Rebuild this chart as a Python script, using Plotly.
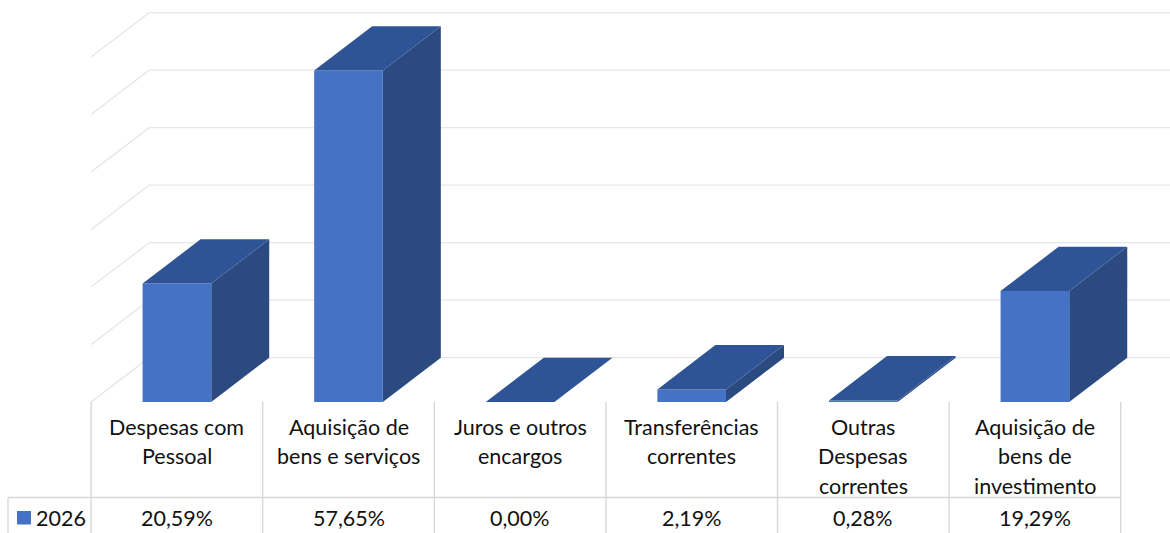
import plotly.graph_objects as go

# ---------------- data ----------------
categories = [
    "Despesas com<br>Pessoal",
    "Aquisição de<br>bens e serviços",
    "Juros e outros<br>encargos",
    "Transferências<br>correntes",
    "Outras<br>Despesas<br>correntes",
    "Aquisição de<br>bens de<br>investimento",
]
series_name = "2026"
values = [20.59, 57.65, 0.00, 2.19, 0.28, 19.29]
grid_ticks = [0, 10, 20, 30, 40, 50, 60]

# ---------------- layout / style constants ----------------
W, H = 1170, 533
X0_PX, X_STEP_PX = 176.9, 171.6      # pixel of category 0 centre, pixels per category
Y0_PX, Y_UNIT_PX = 402.0, 5.75       # pixel of value 0 (front), pixels per percent
BAR_W = 0.4
DX = 58.0 / X_STEP_PX                # depth offset (x, in category units)
DY = 44.3 / Y_UNIT_PX                # depth offset (y, in percent units)

FRONT = "#4472C4"
SIDE = "#2B4A80"
TOP = "#2F5496"
GRID = "#E6E6E6"
TABLE = "#D6D6D6"
FONT = "Lato"
FS = 21.5
TXT = "#111111"

xr = [-X0_PX / X_STEP_PX, (W - X0_PX) / X_STEP_PX]
yr = [(Y0_PX - H) / Y_UNIT_PX, Y0_PX / Y_UNIT_PX]


def ux(px):
    return (px - X0_PX) / X_STEP_PX


def vy(px):
    return (Y0_PX - px) / Y_UNIT_PX


fig = go.Figure()

# ---- walls gridlines ----
gx, gy = [], []
left = -0.5
for t in grid_ticks:
    gx += [left, left + DX, None]
    gy += [t, t + DY, None]
    gx += [left + DX, xr[1] + 1, None]
    gy += [t + DY, t + DY, None]
fig.add_trace(go.Scatter(x=gx, y=gy, mode="lines", line=dict(color=GRID, width=1.3),
                         hoverinfo="skip", showlegend=False))

# ---- 3D bars ----
for i, v in enumerate(values):
    x0, x1 = i - BAR_W / 2, i + BAR_W / 2
    fig.add_trace(go.Scatter(
        x=[x1, x1 + DX, x1 + DX, x1, x1], y=[0, DY, v + DY, v, 0],
        fill="toself", fillcolor=SIDE, mode="lines", line=dict(width=0, color=SIDE),
        hoverinfo="skip", showlegend=False))
    fig.add_trace(go.Scatter(
        x=[x0, x1, x1, x0, x0], y=[0, 0, v, v, 0],
        fill="toself", fillcolor=FRONT, mode="lines", line=dict(width=0, color=FRONT),
        hoverinfo="skip", showlegend=False, name=series_name))
    fig.add_trace(go.Scatter(
        x=[x0, x1, x1 + DX, x0 + DX, x0], y=[v, v, v + DY, v + DY, v],
        fill="toself", fillcolor=TOP, mode="lines", line=dict(width=0, color=TOP),
        hoverinfo="skip", showlegend=False))

# ---- data table ----
shapes = []
n = len(categories)
for k in range(n + 1):
    xb = k - 0.5
    shapes.append(dict(type="line", xref="x", yref="y", x0=xb, x1=xb,
                       y0=vy(402), y1=vy(H + 2), line=dict(color=TABLE, width=1.3)))
shapes.append(dict(type="line", xref="x", yref="y", x0=ux(8), x1=n - 0.5,
                   y0=vy(497.5), y1=vy(497.5), line=dict(color=TABLE, width=1.3)))
shapes.append(dict(type="line", xref="x", yref="y", x0=ux(8), x1=ux(8),
                   y0=vy(497.5), y1=vy(H + 2), line=dict(color=TABLE, width=1.3)))
shapes.append(dict(type="rect", xref="x", yref="y", x0=ux(17), x1=ux(31),
                   y0=vy(524.5), y1=vy(511), fillcolor=FRONT, line=dict(width=0)))

annotations = []
for i, lab in enumerate(categories):
    for j, line in enumerate(lab.split("<br>")):
        annotations.append(dict(x=i, y=vy(426.5 + 29.7 * j), xref="x", yref="y",
                                text=line, showarrow=False, xanchor="center",
                                yanchor="middle", font=dict(family=FONT, size=FS, color=TXT)))
for i, v in enumerate(values):
    annotations.append(dict(x=i, y=vy(518), xref="x", yref="y",
                            text=f"{v:.2f}".replace(".", ",") + "%", showarrow=False,
                            xanchor="center", yanchor="middle",
                            font=dict(family=FONT, size=FS, color=TXT)))
annotations.append(dict(x=ux(34), y=vy(518), xref="x", yref="y", text=series_name,
                        showarrow=False, xanchor="left", yanchor="middle",
                        font=dict(family=FONT, size=FS, color=TXT)))

fig.update_layout(
    width=W, height=H, autosize=False,
    margin=dict(l=0, r=0, t=0, b=0),
    paper_bgcolor="white", plot_bgcolor="white",
    xaxis=dict(range=xr, visible=False, fixedrange=True),
    yaxis=dict(range=yr, visible=False, fixedrange=True),
    shapes=shapes, annotations=annotations, showlegend=False,
)

fig.write_html("out.html", config={"displayModeBar": False},
               post_script="document.body.style.margin='0';document.body.style.overflow='hidden';")
